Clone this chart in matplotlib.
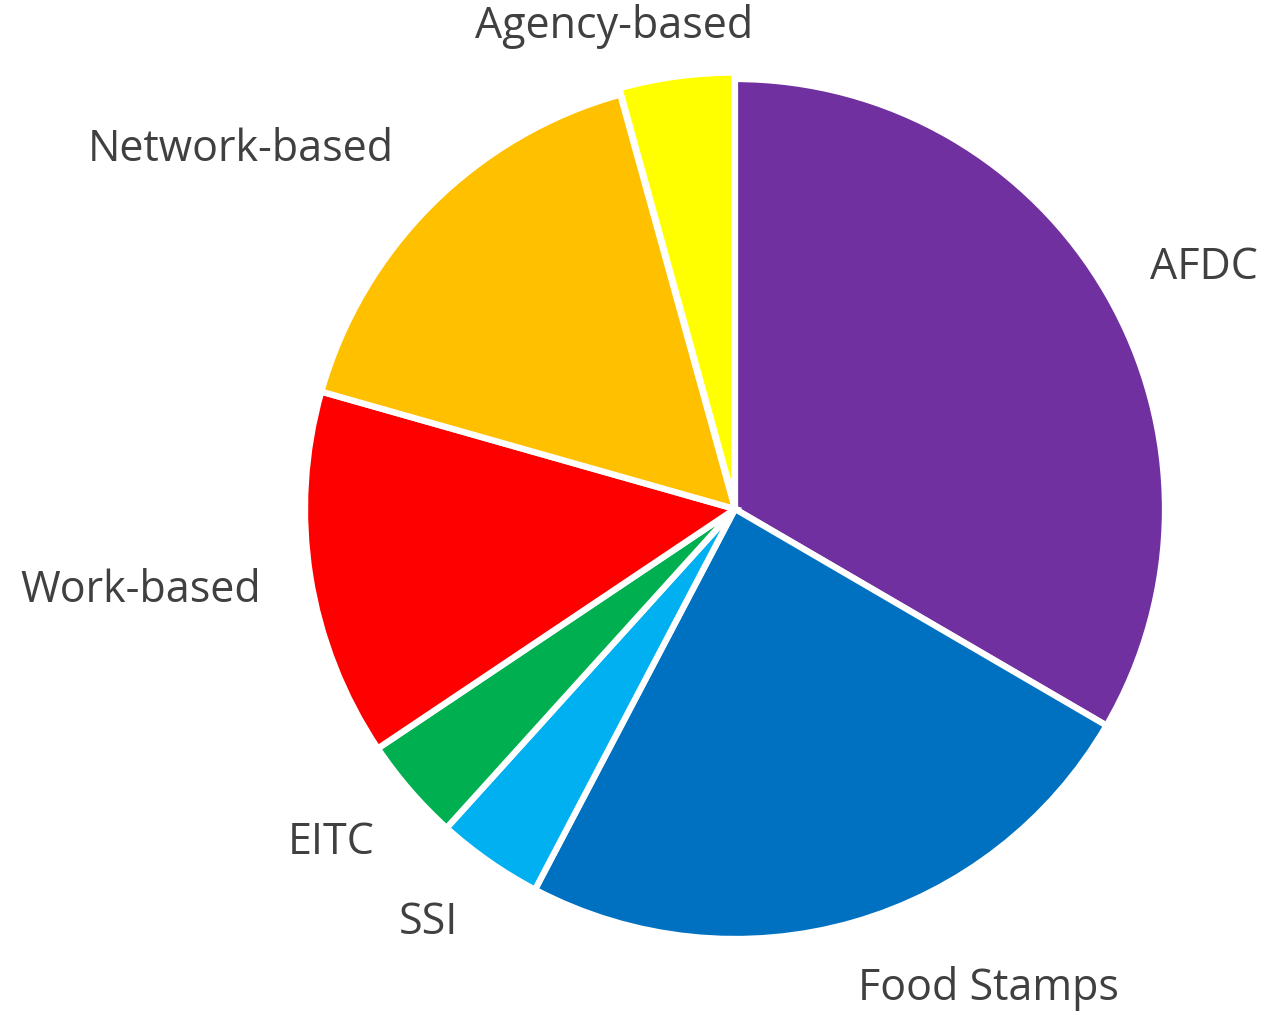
import matplotlib.pyplot as plt

labels = ['AFDC', 'Food Stamps', 'SSI', 'EITC', 'Work-based', 'Network-based', 'Agency-based']
values = [33.4, 24.3, 4.0, 3.9, 13.8, 16.3, 4.3]
colors = ['#7030A0', '#0070C0', '#00B0F0', '#00B050', '#FF0000', '#FFC000', '#FFFF00']
explode = [0, 0, 0, 0, 0, 0, 0.015]

# label centres in pie units (radius = 1)
label_pos = [(1.09, 0.56), (0.59, -1.114), (-0.714, -0.963), (-0.94, -0.777),
             (-1.381, -0.191), (-1.149, 0.835), (-0.281, 1.121)]

fig = plt.figure(figsize=(12.65, 10.15), dpi=100)
ax = fig.add_axes([0, 0, 1, 1])

wedges, texts = ax.pie(values, colors=colors, startangle=90, counterclock=False,
                       explode=explode, labels=labels, radius=1,
                       wedgeprops=dict(edgecolor='white', linewidth=4.5),
                       textprops=dict(fontsize=31, color='#404040', family='Open Sans'))
for t, (x, y) in zip(texts, label_pos):
    t.set_position((x, y))
    t.set_ha('center')
    t.set_va('center')

r = 430
cx, cy = 735, 509
ax.set_xlim(-cx / r, (1265 - cx) / r)
ax.set_ylim(-(1015 - cy) / r, cy / r)
ax.set_aspect('equal')
ax.axis('off')

fig.savefig('out.png', dpi=100)
